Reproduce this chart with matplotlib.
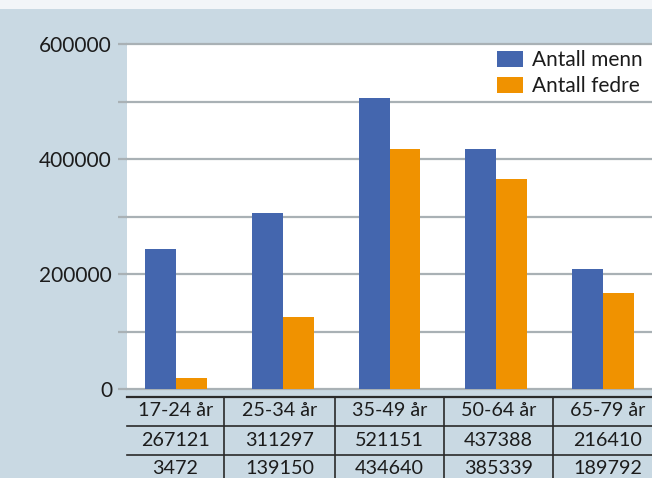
import numpy as np
import matplotlib
matplotlib.use("Agg")
import matplotlib.pyplot as plt
from matplotlib.lines import Line2D
from matplotlib.patches import Rectangle
from matplotlib.ticker import FuncFormatter, MultipleLocator

plt.rcParams['font.family'] = ['Lato', 'DejaVu Sans']

# data
age_groups = ["17-24 år", "25-34 år", "35-49 år", "50-64 år", "65-79 år"]
men_bars = [243500, 306000, 506000, 417500, 209000]      # bar heights as drawn
fedre_bars = [19600, 125200, 417500, 365000, 167000]
men_table = [267121, 311297, 521151, 437388, 216410]     # values in the table
fedre_table = [3472, 139150, 434640, 385339, 189792]
series_names = ["Antall menn", "Antall fedre"]

BG = "#c9d9e3"
BLUE = "#4466ae"
ORANGE = "#f09200"
GRID = "#a9b1b5"
TXT = "#1c1c1c"
LINE = "#2a2a2a"
FS = 15

W, H = 652, 478


def fx(x):
    return x / W


def fy(y):
    return 1 - y / H


fig = plt.figure(figsize=(W / 100, H / 100), dpi=100, facecolor=BG)
# light strip at the very top
fig.patches.append(Rectangle((0, fy(9)), 1, 1 - fy(9), transform=fig.transFigure,
                             facecolor="#f2f5f8", edgecolor="none", zorder=0))

ax = fig.add_axes([fx(127), fy(389), fx(652) - fx(127), fy(44) - fy(389)])
ax.set_facecolor("white")

x = np.arange(len(age_groups))
w = 0.29
ax.bar(x - w / 2, men_bars, w, color=BLUE, label=series_names[0], zorder=3)
ax.bar(x + w / 2, fedre_bars, w, color=ORANGE, label=series_names[1], zorder=3)

ax.set_xlim(-0.4625, 4.462)
ax.set_ylim(0, 600000)
ax.yaxis.set_major_locator(MultipleLocator(100000))
ax.yaxis.set_major_formatter(FuncFormatter(lambda v, p: f"{int(v)}" if int(v) % 200000 == 0 else ""))
ax.grid(axis="y", color=GRID, linewidth=1.6, zorder=1)
for gl in ax.get_ygridlines():
    gl.set_clip_on(False)
ax.tick_params(axis="y", length=6.5, width=1.6, color=GRID, pad=4.3,
               labelsize=FS, labelcolor=TXT)
ax.set_xticks([])
for s in ax.spines.values():
    s.set_visible(False)

leg = ax.legend(loc="upper left", bbox_to_anchor=(fx(497), fy(50)),
                bbox_transform=fig.transFigure, frameon=False, fontsize=FS,
                handlelength=1.25, handleheight=0.77, handletextpad=0.45,
                labelspacing=0.3, borderpad=0, borderaxespad=0)
for t in leg.get_texts():
    t.set_color(TXT)

# table under the chart
col_edges = [127, 224, 335, 444, 553, 662]
row_lines = [396.7, 425.7, 454.7]
row_text = [411, 440, 469]

for i, y in enumerate(row_lines):
    fig.add_artist(Line2D([fx(127), 1], [fy(y), fy(y)], transform=fig.transFigure,
                          color=LINE, linewidth=1.6 if i == 0 else 1.2))
for xe in col_edges[1:-1]:
    fig.add_artist(Line2D([fx(xe), fx(xe)], [fy(396.7), 0], transform=fig.transFigure,
                          color=LINE, linewidth=1.2))

rows = [age_groups, [str(v) for v in men_table], [str(v) for v in fedre_table]]
for r, vals in enumerate(rows):
    for c, val in enumerate(vals):
        cx = (col_edges[c] + col_edges[c + 1]) / 2
        fig.text(fx(cx), fy(row_text[r]), val, ha="center", va="center",
                 fontsize=14.2, color=TXT)

fig.savefig("out.png", dpi=100, facecolor=BG)
